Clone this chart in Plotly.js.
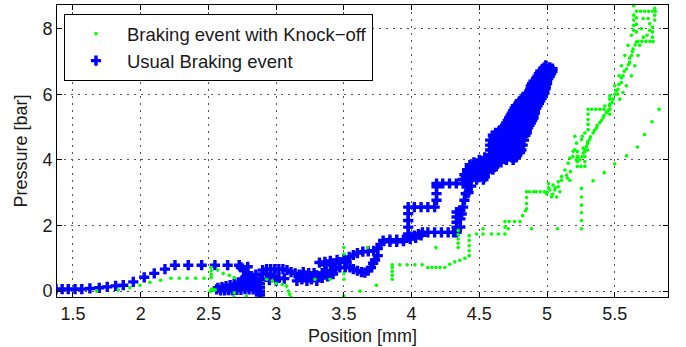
<!DOCTYPE html>
<html>
<head>
<meta charset="utf-8">
<script src="https://cdn.plot.ly/plotly-3.0.1.min.js"></script>
<style>
  html, body { margin: 0; padding: 0; background: #ffffff; }
  #chart { width: 686px; height: 347px; }
</style>
</head>
<body>
<div id="chart"></div>
<script>
// Axis ticks
const posTicks = [1.5, 2, 2.5, 3, 3.5, 4, 4.5, 5, 5.5];
const posLabels = ['1.5', '2', '2.5', '3', '3.5', '4', '4.5', '5', '5.5'];
const presTicks = [0, 2, 4, 6, 8];
const presLabels = ['0', '2', '4', '6', '8'];

// Usual braking event: [position mm, pressure bar]
const usualRamp = [[1.375,0.06],[1.42,0.06],[1.465,0.06],[1.515,0.06],[1.565,0.06],[1.625,0.08],[1.694,0.10],[1.753,0.13],[1.815,0.16],[1.871,0.18],[1.945,0.28],[2.026,0.42],[2.10,0.54],[2.179,0.67],[2.253,0.79],[2.351,0.79],[2.45,0.79],[2.548,0.79],[2.642,0.79],[2.727,0.79]];
const usualKnot = [[2.74,0.72],[2.76,0.64],[2.79,0.55],[2.79,0.47],[2.77,0.40],[2.75,0.34],[2.72,0.27],[2.69,0.22],[2.66,0.18],[2.63,0.15],[2.60,0.12],[2.57,0.10],[2.56,0.05],[2.59,0.02],[2.62,0.02],[2.65,0.03],[2.68,0.02],[2.71,0.04],[2.74,0.04],[2.77,0.06],[2.80,0.05],[2.83,0.05],[2.85,0.14],[2.87,0.25],[2.88,0.36],[2.88,0.22],[2.88,0.10],[2.88,-0.02],[2.88,-0.12],[2.81,0.30],[2.84,0.36],[2.82,0.45],[2.85,0.50],[2.78,0.16],[2.72,0.12],[2.66,0.09],[2.62,0.07],[2.75,0.20],[2.80,0.20],[2.84,0.25],[2.86,0.02],[2.79,0.74]];
const usualBands = [[2.90,0.64],[2.93,0.67],[2.96,0.67],[2.99,0.67],[3.02,0.67],[3.05,0.67],[3.08,0.64],[3.11,0.58],[3.14,0.54],
  [2.90,0.52],[2.93,0.52],[2.96,0.50],[2.99,0.45],[3.02,0.40],[3.06,0.38],[2.95,0.33],[3.00,0.32],
  [3.17,0.50],[3.20,0.45],[3.23,0.42],[3.26,0.42],[3.29,0.45],[3.153,0.31],[3.19,0.36],[3.227,0.31],[3.26,0.36],[3.30,0.31],[3.20,0.58],[3.24,0.55],[3.28,0.55],
  [3.32,0.87],[3.36,0.89],[3.40,0.92],[3.45,0.95],[3.50,0.97],[3.54,1.04],[3.57,1.10],[3.60,1.16],[3.64,1.20],[3.68,1.21],[3.72,1.23],[3.75,1.30],[3.77,1.42],[3.79,1.54],[3.84,1.57],[3.89,1.57],[3.94,1.57],[3.99,1.59],[3.84,1.50],[3.89,1.50],[3.94,1.52],[3.99,1.66],
  [3.36,0.80],[3.42,0.84],[3.47,0.88],[3.52,0.90],
  [3.30,0.48],[3.34,0.55],[3.37,0.60],[3.40,0.62],[3.44,0.67],[3.47,0.72],[3.51,0.72],[3.545,0.72],[3.57,0.67],[3.60,0.62],[3.63,0.58],[3.655,0.56],[3.68,0.62],[3.70,0.72],[3.716,0.85],[3.73,0.95],[3.75,1.08],[3.34,0.40],[3.38,0.45],[3.42,0.52]];
const usualSteps = [[4.02,1.69],[4.05,1.74],[3.975,1.74],[3.975,1.95],[3.975,2.15],[3.975,2.36],[3.975,2.56],[4.02,2.56],[4.07,2.56],[4.12,2.56],[4.17,2.56],[4.184,2.77],[4.184,2.97],[4.184,3.18],[4.184,3.28],[4.23,3.28],[4.28,3.28],[4.33,3.28],[4.38,3.28],
  [4.08,1.79],[4.12,1.79],[4.17,1.79],[4.22,1.79],[4.27,1.79],[4.31,1.79],[4.332,1.79],[4.332,1.95],[4.332,2.10],[4.332,2.26],[4.332,2.41],[4.36,2.46],[4.38,2.56],[4.39,2.77],[4.40,2.97],[4.41,3.18],[4.42,3.39],[4.36,2.20],[4.36,1.95],[4.37,2.35],[4.42,3.00],[4.44,3.20],[4.46,3.50],[4.48,3.70],[4.03,1.62],[4.07,1.70]];
const usualClimb = [
  [4.38,3.40],[4.43,3.40],[4.48,3.40],[4.53,3.40],
  [4.40,3.475],[4.45,3.475],[4.50,3.475],[4.54,3.475],
  [4.39,3.55],[4.44,3.55],[4.49,3.55],[4.54,3.55],
  [4.41,3.625],[4.46,3.625],[4.51,3.625],[4.56,3.625],
  [4.41,3.70],[4.46,3.70],[4.51,3.70],[4.56,3.70],[4.60,3.70],
  [4.43,3.775],[4.48,3.775],[4.53,3.775],[4.58,3.775],[4.61,3.775],
  [4.43,3.85],[4.48,3.85],[4.53,3.85],[4.58,3.85],[4.62,3.85],
  [4.46,3.925],[4.51,3.925],[4.56,3.925],[4.61,3.925],[4.66,3.925],
  [4.50,4.00],[4.55,4.00],[4.60,4.00],[4.65,4.00],[4.70,4.00],[4.75,4.00],
  [4.54,4.075],[4.59,4.075],[4.64,4.075],[4.69,4.075],[4.74,4.075],[4.77,4.075],
  [4.58,4.15],[4.63,4.15],[4.68,4.15],[4.73,4.15],[4.78,4.15],
  [4.60,4.225],[4.65,4.225],[4.70,4.225],[4.75,4.225],[4.80,4.225],
  [4.58,4.30],[4.63,4.30],[4.68,4.30],[4.73,4.30],[4.78,4.30],[4.81,4.30],
  [4.60,4.375],[4.65,4.375],[4.70,4.375],[4.75,4.375],[4.80,4.375],
  [4.58,4.45],[4.63,4.45],[4.68,4.45],[4.73,4.45],[4.78,4.45],[4.82,4.45],
  [4.60,4.525],[4.65,4.525],[4.70,4.525],[4.75,4.525],[4.80,4.525],
  [4.58,4.60],[4.63,4.60],[4.68,4.60],[4.73,4.60],[4.78,4.60],[4.83,4.60],
  [4.61,4.675],[4.66,4.675],[4.71,4.675],[4.76,4.675],[4.81,4.675],
  [4.60,4.75],[4.65,4.75],[4.70,4.75],[4.75,4.75],[4.80,4.75],[4.84,4.75],
  [4.62,4.825],[4.67,4.825],[4.72,4.825],[4.77,4.825],[4.82,4.825],[4.85,4.825],
  [4.65,4.90],[4.70,4.90],[4.75,4.90],[4.80,4.90],[4.85,4.90],
  [4.67,4.975],[4.72,4.975],[4.77,4.975],[4.82,4.975],[4.86,4.975],
  [4.69,5.05],[4.74,5.05],[4.79,5.05],[4.84,5.05],[4.87,5.05],
  [4.70,5.125],[4.75,5.125],[4.80,5.125],[4.85,5.125],[4.88,5.125],
  [4.71,5.20],[4.76,5.20],[4.81,5.20],[4.86,5.20],[4.89,5.20],
  [4.72,5.275],[4.77,5.275],[4.82,5.275],[4.87,5.275],[4.90,5.275],
  [4.73,5.35],[4.78,5.35],[4.83,5.35],[4.88,5.35],[4.90,5.35],
  [4.74,5.425],[4.79,5.425],[4.84,5.425],[4.89,5.425],[4.91,5.425],
  [4.75,5.50],[4.80,5.50],[4.85,5.50],[4.91,5.50],
  [4.76,5.575],[4.81,5.575],[4.86,5.575],[4.92,5.575],
  [4.77,5.65],[4.82,5.65],[4.87,5.65],[4.93,5.65],
  [4.79,5.725],[4.84,5.725],[4.89,5.725],[4.94,5.725],
  [4.80,5.80],[4.85,5.80],[4.90,5.80],[4.95,5.80],
  [4.82,5.875],[4.87,5.875],[4.92,5.875],[4.96,5.875],
  [4.84,5.95],[4.89,5.95],[4.94,5.95],[4.97,5.95],
  [4.85,6.025],[4.90,6.025],[4.95,6.025],[4.98,6.025],
  [4.87,6.10],[4.92,6.10],[4.98,6.10],
  [4.88,6.175],[4.93,6.175],[4.99,6.175],
  [4.88,6.25],[4.93,6.25],[4.99,6.25],
  [4.89,6.325],[4.94,6.325],[5.00,6.325],
  [4.90,6.40],[4.95,6.40],[5.00,6.40],
  [4.92,6.475],[4.97,6.475],[5.01,6.475],
  [4.93,6.55],[4.98,6.55],[5.02,6.55],
  [4.94,6.625],[4.99,6.625],[5.03,6.625],
  [4.95,6.70],[5.00,6.70],[5.04,6.70],
  [4.97,6.76],[5.01,6.76],
  [4.98,6.82],[5.02,6.82],[5.04,6.78],[4.99,6.88]];

// Braking event with knock-off: [position mm, pressure bar]
const knockLow = [[1.675,0.0],[1.834,0.03],[1.92,0.10],[1.994,0.18],[2.068,0.27],[2.147,0.33],[2.223,0.39],[2.284,0.39],[2.343,0.39],[2.405,0.39],[2.467,0.39],[2.52,0.41],[2.52,0.51],[2.52,0.62],[2.52,0.72],[2.568,0.64],[2.609,0.54],[2.654,0.48],[2.69,0.41],[2.52,0.05],[2.54,0.02],[2.51,-0.02],[2.53,0.06],[2.55,0.04],[2.69,-0.05],[2.69,-0.18],[2.78,-0.15],[2.93,0.36],[2.971,0.31],[3.0,0.23],[3.045,0.2],[3.077,0.15],[3.09,0.0],[3.10,-0.1],[3.11,-0.2]];
const knockMid = [[3.286,0.36],[3.397,0.36],[3.50,1.33],[3.50,1.13],[3.50,0.53],[3.50,0.36],[3.50,-0.15],[3.675,1.33],[3.74,0.18],[3.62,0.0],
  [3.857,0.36],[3.857,0.48],[3.857,0.60],[3.857,0.72],[3.857,0.80],[3.913,0.80],[3.967,0.80],[4.024,0.80],[4.078,0.80],[4.12,0.72],[4.15,0.72],[4.18,0.72],[4.21,0.72],[4.245,0.72],[4.282,0.82],[4.319,0.89],[4.356,0.94],[4.393,1.0],[4.425,1.08],[4.425,1.23],[4.425,1.38],[4.425,1.54],[4.425,1.69],[4.344,1.33],[4.344,1.46],[4.344,1.59],[4.344,1.72],[4.344,1.85],[4.179,1.33],[4.479,1.74],[4.528,1.90],[4.528,1.74],[4.59,1.74],[4.64,1.74]];
const knockRise = [[4.689,1.74],[4.689,1.95],[4.689,2.12],[4.72,2.12],[4.76,2.12],[4.80,2.12],[4.713,1.90],[4.82,2.30],[4.84,2.45],[4.849,2.51],[4.849,2.67],[4.849,2.85],[4.849,3.03],[4.87,3.03],[4.90,3.03],[4.92,3.03],[4.95,3.03],[4.98,3.03],[4.885,1.90],[5.077,1.90],
  [5.00,3.0],[5.01,3.28],[5.045,3.23],[5.083,3.18],[5.095,3.03],[5.07,2.87],[5.033,2.87],[4.996,2.97],[5.02,3.08],[5.058,3.08],[5.083,3.33],[5.107,3.38],[5.04,2.95],[5.06,3.15],[5.01,3.15],
  [5.107,3.49],[5.132,3.69],[5.156,3.90],[5.168,4.05],[5.193,4.26],[5.144,3.54],[5.173,3.64],[5.168,3.38],[5.15,3.45],
  [5.254,3.13],[5.254,2.87],[5.254,2.62],[5.254,2.39],[5.254,2.15],[5.254,1.90],
  [5.34,3.36],[5.422,3.61],[5.50,3.88],[5.586,4.12],[5.667,4.39],[5.72,4.77],[5.775,5.16],[5.827,5.54],
  [5.223,3.8],[5.223,3.95],[5.223,4.1],[5.223,4.25],[5.279,3.8],[5.279,3.95],[5.279,4.1],[5.279,4.25],[5.25,3.8]];
const knockTop = [[5.205,4.72],[5.217,4.51],[5.205,4.31],[5.254,4.62],[5.266,4.36],[5.229,4.10],[5.279,4.82],[5.19,4.1],
  [5.242,4.0],[5.266,4.21],[5.291,4.41],[5.315,4.62],[5.34,4.82],[5.365,4.97],[5.389,5.13],[5.414,5.28],[5.438,5.44],[5.463,5.64],[5.488,5.85],[5.50,6.0],[5.524,6.15],[5.549,6.36],[5.561,6.56],[5.586,6.77],[5.61,6.97],[5.623,7.18],[5.635,7.38],[5.66,7.59],
  [5.684,7.49],[5.672,7.18],[5.648,6.87],[5.623,6.56],[5.586,6.26],[5.561,6.05],[5.537,5.85],
  [5.623,7.80],[5.598,7.49],[5.574,7.18],[5.549,6.87],[5.532,6.56],[5.50,6.26],[5.463,5.95],[5.426,5.64],
  [5.51,6.1],[5.53,6.3],[5.55,6.5],[5.57,6.7],[5.60,6.9],[5.61,7.1],[5.63,7.3],[5.65,7.5],[5.52,6.0],[5.48,5.75],[5.45,5.5],[5.42,5.35],[5.40,5.2],[5.37,5.05],[5.35,4.9],[5.32,4.7],[5.30,4.55],[5.28,4.3],[5.26,4.1],
  [5.303,5.54],[5.33,5.54],[5.36,5.54],[5.39,5.54],[5.42,5.54],[5.463,5.54],
  [5.463,5.85],[5.463,5.69],[5.463,5.39],
  [5.303,5.39],[5.303,5.23],[5.303,5.08],[5.303,4.92],
  [5.64,8.70],[5.66,8.53],[5.69,8.53],[5.72,8.53],[5.75,8.53],[5.78,8.53],[5.80,8.53],[5.66,8.33],[5.66,8.13],[5.66,7.90],[5.64,8.41],[5.64,8.26],[5.64,8.10],[5.64,7.95],[5.795,8.62],[5.795,8.41],[5.795,8.26],
  [5.71,8.31],[5.746,8.31],[5.758,8.15],[5.758,7.95],[5.738,7.80],[5.71,7.74],[5.697,8.0],
  [5.778,8.05],[5.778,7.90],[5.778,7.74],
  [5.672,7.61],[5.70,7.61],[5.73,7.61],[5.76,7.61],[5.783,7.61],
  [5.30,4.5],[5.30,4.3],[5.217,4.0],[5.26,4.72]];

const usual = [].concat(usualRamp, usualKnot, usualBands, usualSteps, usualClimb);
const knock = [].concat(knockLow, knockMid, knockRise, knockTop);

const txtFont = { family: 'Liberation Sans, Arial, Helvetica, sans-serif', size: 18, color: '#1a1a1a' };
const legendFont = Object.assign({}, txtFont, { size: 18.5 });

const traces = [
  {
    type: 'scatter', mode: 'markers', name: 'Usual Braking event',
    x: usual.map(p => p[0]), y: usual.map(p => p[1]),
    marker: { symbol: 'cross', size: 8.5, color: '#0000ff', line: { width: 0 } }
  },
  {
    type: 'scatter', mode: 'markers', name: 'Braking event with Knock\u2212off',
    x: knock.map(p => p[0]), y: knock.map(p => p[1]),
    marker: { symbol: 'circle', size: 3.6, color: '#00ff00', line: { width: 0 } }
  }
];

const axisBase = {
  showline: true, linecolor: '#000', linewidth: 1, mirror: 'allticks',
  ticks: 'inside', ticklen: 5, tickcolor: '#000', tickwidth: 1,
  showgrid: true, gridcolor: '#555', gridwidth: 1, griddash: '2px,5px',
  zeroline: false, tickfont: txtFont
};

const layout = {
  width: 686, height: 347,
  margin: { l: 57, r: 18, t: 5, b: 50 },
  paper_bgcolor: '#fff', plot_bgcolor: '#fff',
  font: txtFont,
  showlegend: true,
  legend: {
    x: 0.0114, y: 0.969, xanchor: 'left', yanchor: 'top',
    bgcolor: '#fff', bordercolor: '#000', borderwidth: 1,
    font: legendFont, traceorder: 'reversed', itemwidth: 52
  },
  xaxis: Object.assign({}, axisBase, {
    range: [1.382, 5.893], tickvals: posTicks, ticktext: posLabels,
    title: { text: 'Position [mm]', font: txtFont, standoff: 6 }
  }),
  yaxis: Object.assign({}, axisBase, {
    range: [-0.18, 8.72], tickvals: presTicks, ticktext: presLabels,
    title: { text: 'Pressure [bar]', font: txtFont, standoff: 10 }
  })
};

Plotly.newPlot('chart', traces, layout, { staticPlot: true, displayModeBar: false });
</script>
</body>
</html>
